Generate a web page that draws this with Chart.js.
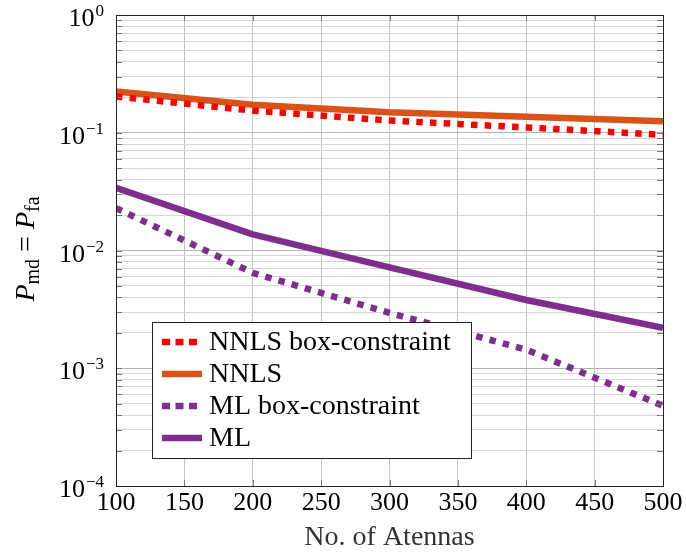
<!DOCTYPE html>
<html>
<head>
<meta charset="utf-8">
<script src="https://cdn.jsdelivr.net/npm/chart.js@4"></script>
<style>
  body { margin: 0; background: #fff; }
  canvas { display: block; }
</style>
</head>
<body>
<canvas id="chart" width="686" height="554"></canvas>
<script>
const antennas = [100, 200, 300, 400, 500];
const nnlsBox = [0.203, 0.154, 0.127, 0.111, 0.096];
const nnls = [0.224, 0.173, 0.149, 0.137, 0.125];
const mlBox = [0.0229, 0.00646, 0.00295, 0.00144, 0.00048];
const ml = [0.034, 0.0137, 0.0072, 0.0038, 0.0022];
const xTicks = [100, 150, 200, 250, 300, 350, 400, 450, 500];
const yExponents = [0, -1, -2, -3, -4];

const serif = '"Liberation Serif", "DejaVu Serif", serif';
const RED = '#ff0000';
const ORANGE = '#d95319';
const PURPLE = '#7e2f8e';

const toPoints = (ys) => antennas.map((x, i) => ({ x: x, y: ys[i] }));

const isMajor = (v) => Math.abs(Math.log10(v) - Math.round(Math.log10(v))) < 1e-6;

// frame, inward ticks, y labels with exponents, axis title and legend
const decorations = {
  id: 'decorations',
  afterDatasetsDraw(chart) {
    const ctx = chart.ctx;
    const area = chart.chartArea;
    const xs = chart.scales.x;
    const ys = chart.scales.y;
    ctx.save();

    ctx.strokeStyle = '#777';
    ctx.lineWidth = 1;
    ctx.beginPath();
    ys.ticks.forEach((t) => {
      const py = Math.round(ys.getPixelForValue(t.value)) + 0.5;
      ctx.moveTo(area.left, py); ctx.lineTo(area.left + 6, py);
      ctx.moveTo(area.right, py); ctx.lineTo(area.right - 6, py);
    });
    xTicks.forEach((v) => {
      const px = Math.round(xs.getPixelForValue(v)) + 0.5;
      ctx.moveTo(px, area.bottom); ctx.lineTo(px, area.bottom - 6);
      ctx.moveTo(px, area.top); ctx.lineTo(px, area.top + 6);
    });
    ctx.stroke();

    ctx.strokeStyle = '#222';
    ctx.strokeRect(Math.round(area.left) + 0.5, Math.round(area.top) + 0.5,
      Math.round(area.right - area.left), Math.round(area.bottom - area.top));

    // y tick labels 10^k
    ctx.fillStyle = '#000';
    ctx.textBaseline = 'alphabetic';
    yExponents.forEach((e) => {
      const py = ys.getPixelForValue(Math.pow(10, e));
      const sup = e === 0 ? '0' : '\u2212' + (-e);
      ctx.font = '17px ' + serif;
      const supW = ctx.measureText(sup).width;
      const right = 104;
      ctx.textAlign = 'right';
      ctx.fillText(sup, right, py + 1);
      ctx.font = '26px ' + serif;
      ctx.fillText('10', right - supW - 1, py + 11);
    });

    // y axis title
    ctx.translate(34, 249);
    ctx.rotate(-Math.PI / 2);
    const parts = [
      { t: 'P', f: 'italic 28px ' + serif, dy: 0 },
      { t: 'md', f: '20px ' + serif, dy: 5 },
      { t: ' = ', f: '28px ' + serif, dy: 0 },
      { t: 'P', f: 'italic 28px ' + serif, dy: 0 },
      { t: 'fa', f: '20px ' + serif, dy: 5 }
    ];
    let total = 0;
    parts.forEach((p) => { ctx.font = p.f; p.w = ctx.measureText(p.t).width; total += p.w; });
    let cx = -total / 2;
    ctx.textAlign = 'left';
    parts.forEach((p) => { ctx.font = p.f; ctx.fillText(p.t, cx, p.dy); cx += p.w; });
    ctx.setTransform(1, 0, 0, 1, 0, 0);

    // legend
    const lx = 152, ly = 322, lw = 319, lh = 136;
    ctx.fillStyle = '#fff';
    ctx.fillRect(lx, ly, lw, lh);
    ctx.strokeStyle = '#222';
    ctx.lineWidth = 1;
    ctx.strokeRect(lx + 0.5, ly + 0.5, lw, lh);
    chart.data.datasets.forEach((ds, i) => {
      const ry = 342 + i * 32;
      ctx.save();
      ctx.strokeStyle = ds.borderColor;
      ctx.lineWidth = ds.borderWidth;
      ctx.lineCap = 'butt';
      ctx.setLineDash(ds.borderDash ? [8, 5.5] : []);
      ctx.beginPath();
      ctx.moveTo(162, ry); ctx.lineTo(202, ry);
      ctx.stroke();
      ctx.restore();
      ctx.fillStyle = '#000';
      ctx.font = '28px ' + serif;
      ctx.textAlign = 'left';
      ctx.textBaseline = 'middle';
      ctx.fillText(ds.label, 209, ry + 1);
    });

    ctx.restore();
  }
};

new Chart(document.getElementById('chart'), {
  type: 'line',
  data: {
    datasets: [
      { label: 'NNLS box-constraint', data: toPoints(nnlsBox), borderColor: RED, borderWidth: 6.5, borderDash: [6.5, 7.2] },
      { label: 'NNLS', data: toPoints(nnls), borderColor: ORANGE, borderWidth: 6.5 },
      { label: 'ML box-constraint', data: toPoints(mlBox), borderColor: PURPLE, borderWidth: 6.5, borderDash: [6.5, 7.2] },
      { label: 'ML', data: toPoints(ml), borderColor: PURPLE, borderWidth: 6.5 }
    ]
  },
  options: {
    responsive: false,
    animation: false,
    layout: { padding: { top: 15, right: 23, left: 0, bottom: 0 } },
    elements: {
      point: { radius: 0 },
      line: { tension: 0, borderCapStyle: 'butt', borderJoinStyle: 'round' }
    },
    plugins: {
      legend: { display: false },
      tooltip: { enabled: false }
    },
    scales: {
      x: {
        type: 'linear',
        min: 100,
        max: 500,
        afterBuildTicks: (s) => { s.ticks = xTicks.map((v) => ({ value: v })); },
        afterFit: (s) => { s.height = 554 - 486; },
        ticks: { color: '#000', font: { family: serif, size: 26 }, padding: 2, maxRotation: 0 },
        grid: { color: '#c4c4c4', drawTicks: false },
        border: { display: false },
        title: {
          display: true,
          text: 'No. of Atennas',
          color: '#333',
          font: { family: serif, size: 28 },
          padding: { top: 2, bottom: 0 }
        }
      },
      y: {
        type: 'logarithmic',
        min: 1e-4,
        max: 1,
        afterBuildTicks: (s) => {
          const t = [];
          yExponents.slice().reverse().forEach((e) => {
            for (let m = 1; m <= 9; m++) {
              const v = m * Math.pow(10, e);
              if (v <= 1 + 1e-9) t.push({ value: v });
            }
          });
          s.ticks = t;
        },
        afterFit: (s) => { s.width = 116; },
        ticks: { display: false },
        grid: {
          drawTicks: false,
          color: (c) => (c.tick && isMajor(c.tick.value) ? '#b4b4b4' : '#d6d6d6')
        },
        border: { display: false }
      }
    }
  },
  plugins: [decorations]
});
</script>
</body>
</html>
